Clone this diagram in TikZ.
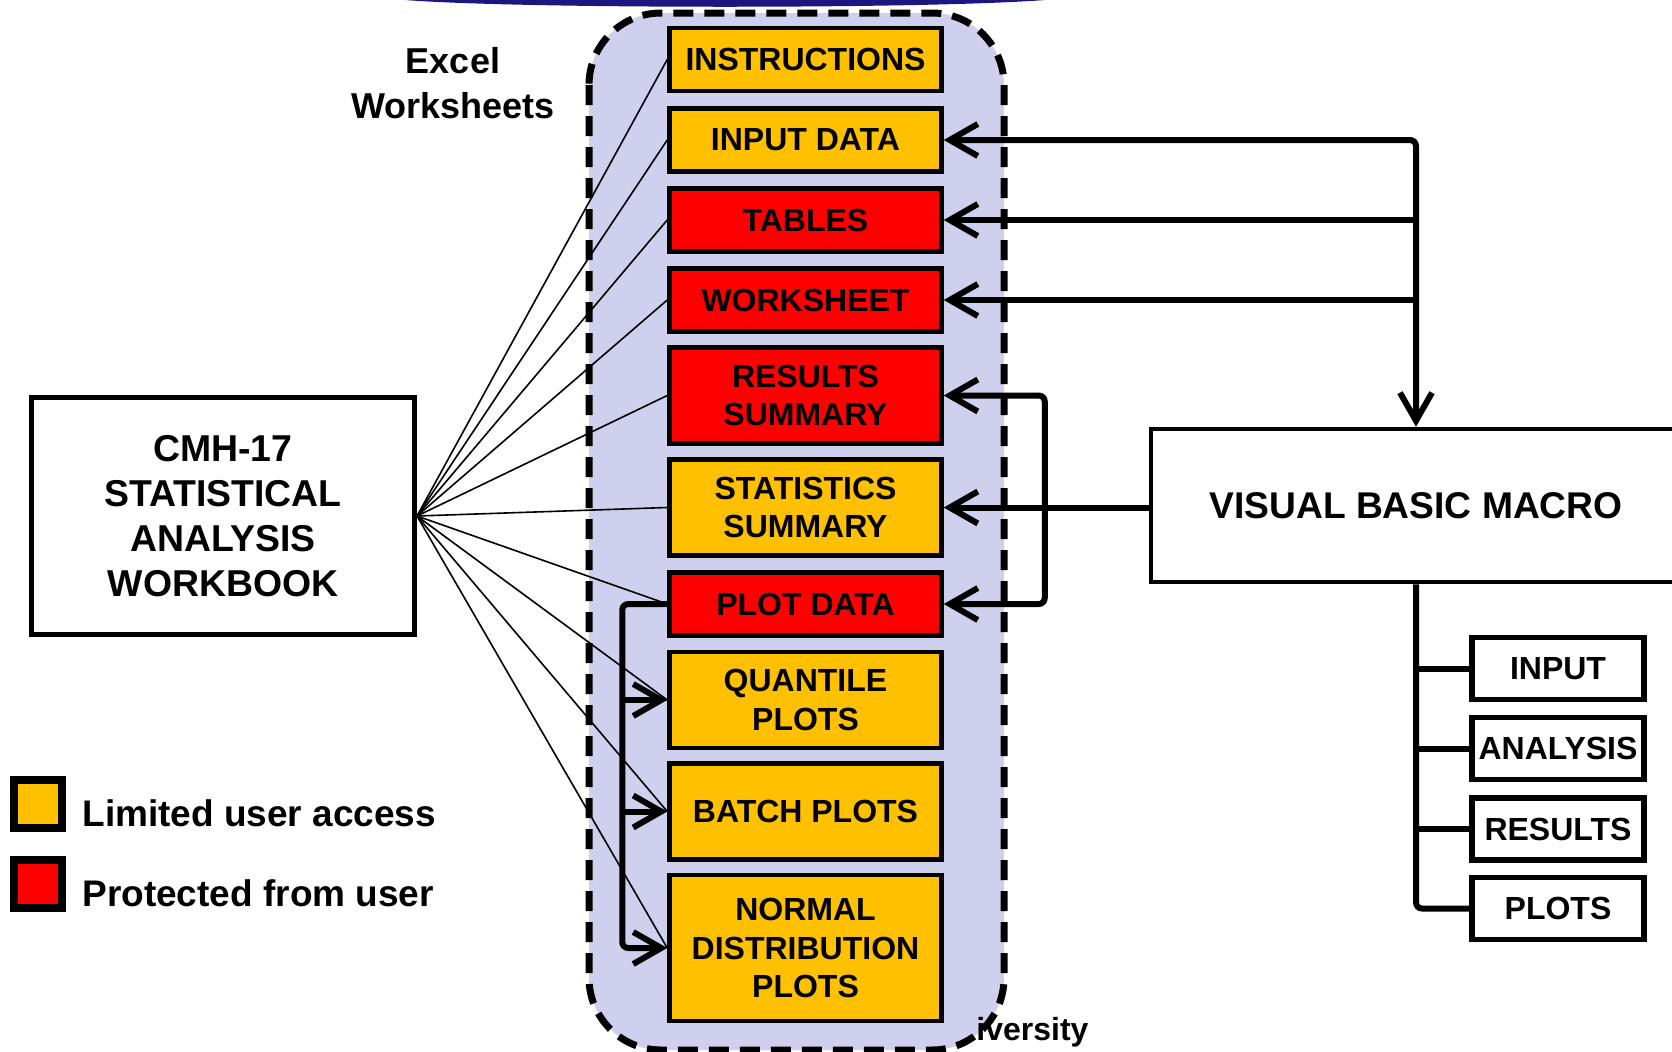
\documentclass[tikz,border=0pt]{standalone}
\usepackage{fontspec}
\setmainfont{Liberation Sans}
\usetikzlibrary{arrows.meta}

\definecolor{sheetorange}{RGB}{255,192,0}
\definecolor{sheetred}{RGB}{255,0,0}
\definecolor{groupfill}{RGB}{207,208,238}
\definecolor{bandnavy}{RGB}{28,22,128}

\tikzset{
  sheet/.style={draw, line width=2.25pt, minimum width=136pt, minimum height=31.5pt,
    inner sep=0pt, align=center, font=\fontsize{16}{19.2}\selectfont\bfseries},
  limited/.style={sheet, fill=sheetorange},
  locked/.style={sheet, fill=sheetred},
  tall/.style={minimum height=48pt},
  taller/.style={minimum height=73pt},
  macrobox/.style={draw, line width=2.6pt, minimum width=86pt, minimum height=31pt,
    inner sep=0pt, font=\fontsize{16}{19.2}\selectfont\bfseries},
  trunk/.style={line width=3pt, rounded corners=3pt},
  fan/.style={line width=0.8pt},
  keybox/.style={draw, line width=4pt, minimum size=24pt, inner sep=0pt},
  keytext/.style={anchor=west, inner sep=0pt, font=\fontsize{18.5}{22}\selectfont\bfseries},
}

\begin{document}
\begin{tikzpicture}[x=0.5pt, y=-0.5pt, >={Straight Barb[length=14pt,width=16pt]}]
    \useasboundingbox (0,0) rectangle (1672,1051);
    \clip (0,0) rectangle (1672,1051);

    % band at the top edge
    \fill[bandnavy] (405,0) .. controls (520,9) and (930,9) .. (1045,0) -- cycle;

    % worksheet group
    \draw[fill=groupfill, line width=3.5pt, dash pattern=on 10pt off 5.5pt, rounded corners=36pt]
        (589,13) rectangle (1004,1050);
    \node[font=\fontsize{16}{19.2}\selectfont\bfseries, anchor=west, inner sep=0pt] (univ) at (976,1032) {iversity};

    \node[font=\fontsize{18}{22.4}\selectfont\bfseries, align=center] (excel) at (453,83.5) {Excel\\Worksheets};

    % worksheets
    \node[limited] (instr) at (805.5,59.5) {INSTRUCTIONS};
    \node[limited] (input) at (805.5,140) {INPUT DATA};
    \node[locked] (tables) at (805.5,220) {TABLES};
    \node[locked] (wsheet) at (805.5,300) {WORKSHEET};
    \node[locked, tall] (results) at (805.5,395.5) {RESULTS\\SUMMARY};
    \node[limited, tall] (stats) at (805.5,507.5) {STATISTICS\\SUMMARY};
    \node[locked] (plotdata) at (805.5,604) {PLOT DATA};
    \node[limited, tall] (quant) at (805.5,700) {QUANTILE\\PLOTS};
    \node[limited, tall] (batch) at (805.5,811.5) {BATCH PLOTS};
    \node[limited, taller] (normal) at (805.5,948) {NORMAL\\DISTRIBUTION\\PLOTS};

    % workbook
    \node[draw, line width=2.5pt, minimum width=191.5pt, minimum height=118.5pt, align=center,
        font=\fontsize{18.7}{22.4}\selectfont\bfseries] (book) at (223,516)
        {CMH-17\\STATISTICAL\\ANALYSIS\\WORKBOOK};
    \foreach \s in {instr,input,tables,wsheet,results,stats,plotdata,quant,batch,normal}
        \draw[fan] (book.east) -- (\s.west);

    % macro
    \node[draw, line width=2.25pt, minimum width=265pt, minimum height=76.5pt,
        font=\fontsize{18.6}{22}\selectfont\bfseries] (vbm) at (1416,505.5) {VISUAL BASIC MACRO};
    \node[macrobox] (minput) at (1558,668.5) {INPUT};
    \node[macrobox] (manalysis) at (1558,748.5) {ANALYSIS};
    \node[macrobox] (mresults) at (1558,829) {RESULTS};
    \node[macrobox] (mplots) at (1558,908.5) {PLOTS};

    \draw[trunk, <->] (input.east) -- (input.east -| vbm.north) -- (vbm.north);
    \draw[trunk, <-] (tables.east) -- (tables.east -| vbm.north);
    \draw[trunk, <-] (wsheet.east) -- (wsheet.east -| vbm.north);
    \draw[trunk, <-] (stats.east) -- (stats.east -| vbm.west);
    \draw[trunk, <->] (results.east) -- ++(101,0) |- (plotdata.east);

    \draw[trunk] (vbm.south) |- (mplots.west);
    \foreach \m in {minput,manalysis,mresults}
        \draw[trunk] (\m.west) -- (\m.west -| vbm.south);

    % plot data feeds the plots
    \draw[trunk, ->] (plotdata.west) -- ++(-45,0) |- (normal.west);
    \draw[trunk, ->] ([xshift=-22.5pt]quant.west) -- (quant.west);
    \draw[trunk, ->] ([xshift=-22.5pt]batch.west) -- (batch.west);

    % legend
    \node[keybox, fill=sheetorange] (keyltd) at (38,804) {};
    \node[keybox, fill=sheetred] (keyprot) at (38,884) {};
    \node[keytext] (ltdtext) at (82,813) {Limited user access};
    \node[keytext] (prottext) at (82,893) {Protected from user};
\end{tikzpicture}
\end{document}
